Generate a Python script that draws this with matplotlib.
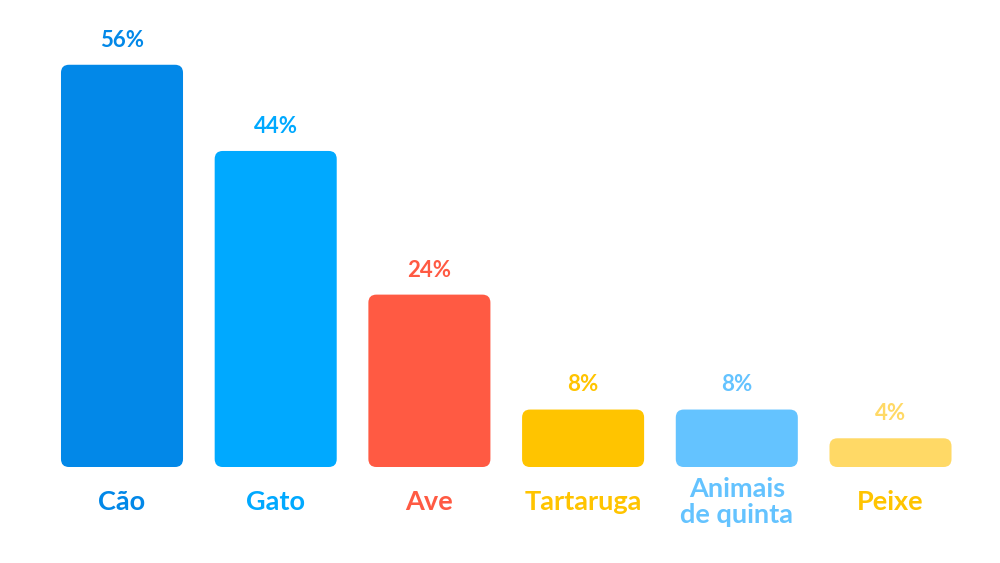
import matplotlib.pyplot as plt
from matplotlib.patches import FancyBboxPatch

# данные
categorias = ['Cão', 'Gato', 'Ave', 'Tartaruga', 'Animais\nde quinta', 'Peixe']
valores = [56, 44, 24, 8, 8, 4]
cores_barras = ['#0288E8', '#00A9FF', '#FF5A43', '#FFC400', '#64C3FF', '#FFD966']
cores_valores = ['#0288E8', '#00A9FF', '#FF5A43', '#FFC400', '#64C3FF', '#FFD966']
cores_rotulos = ['#0288E8', '#00A9FF', '#FF5A43', '#FFC400', '#64C3FF', '#FFC400']

plt.rcParams['font.family'] = ['Lato', 'DejaVu Sans']

fig = plt.figure(figsize=(10, 5.63), dpi=100)
ax = fig.add_axes([0.04515, 0.1705, 0.9222, 0.7655])
ax.set_xlim(-0.5, 5.5)
ax.set_ylim(0, 60)
ax.axis('off')

x = list(range(len(categorias)))
bars = ax.bar(x, valores, width=0.794, color='none')

# cantos arredondados
fig.canvas.draw()
px_x = ax.transData.transform((1, 0))[0] - ax.transData.transform((0, 0))[0]
px_y = ax.transData.transform((0, 1))[1] - ax.transData.transform((0, 0))[1]
raio = 8 / px_x
aspecto = px_x / px_y

for rect, cor in zip(bars, cores_barras):
    rect.set_visible(False)
    caixa = FancyBboxPatch((rect.get_x(), rect.get_y()), rect.get_width(), rect.get_height(),
                           boxstyle=f'round,pad=0,rounding_size={raio}',
                           mutation_aspect=aspecto, facecolor=cor, edgecolor='none')
    ax.add_patch(caixa)

for xi, v, cv, cr, nome in zip(x, valores, cores_valores, cores_rotulos, categorias):
    ax.annotate(f'{v}%', (xi, v), xytext=(0, 13), textcoords='offset points',
                ha='center', va='baseline', fontsize=16, fontweight='bold', color=cv)
    ax.annotate(nome, (xi, 0), xytext=(0, -25), textcoords='offset points',
                ha='center', va='center', fontsize=19.5, fontweight='bold', color=cr,
                linespacing=1.1, annotation_clip=False)

plt.savefig('out.png', dpi=100)
